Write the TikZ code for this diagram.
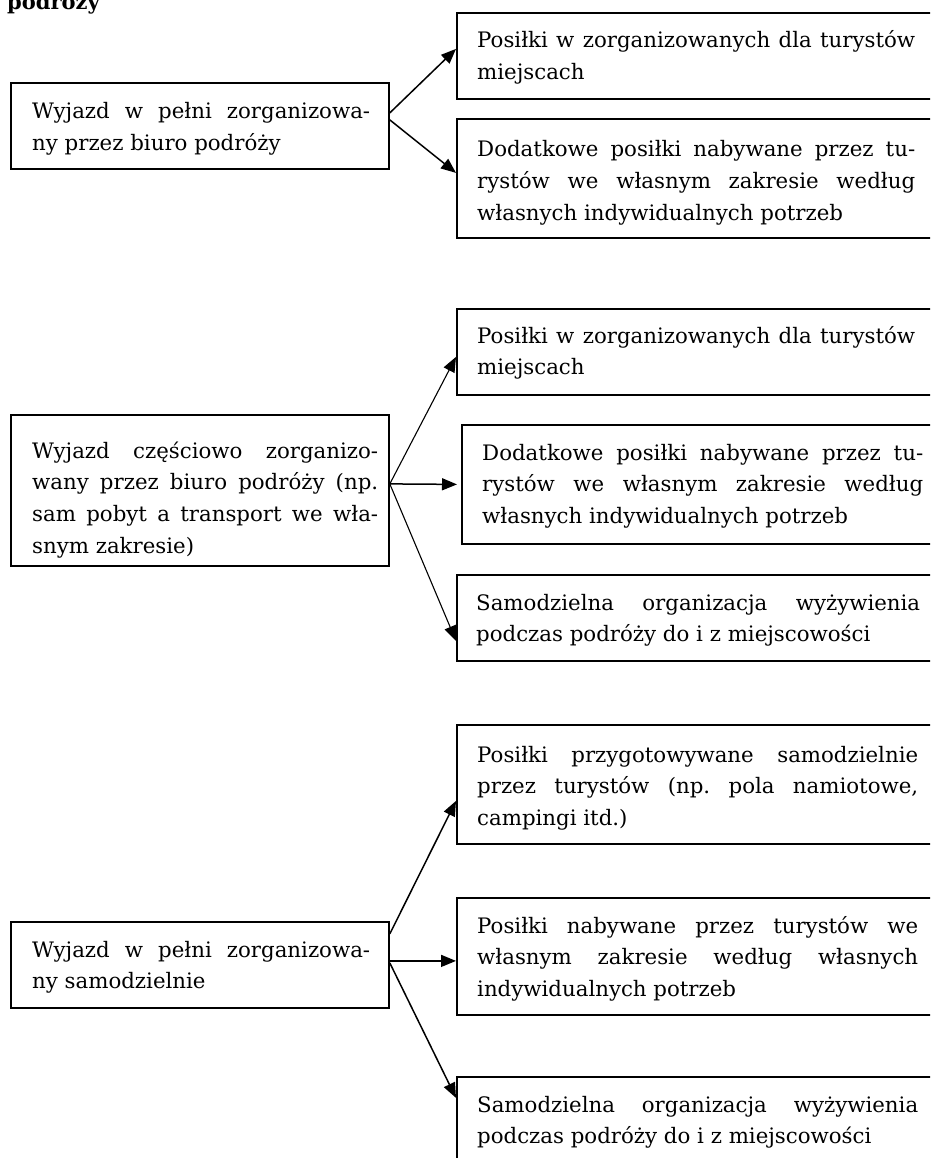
\documentclass[tikz,border=0pt]{standalone}
\usepackage{fontspec}
\setmainfont{DejaVu Serif}
\frenchspacing
\usetikzlibrary{arrows.meta}
\newcommand\jl[1]{\makebox[\linewidth][s]{#1}\par}
\tikzset{
  box/.style={draw, line width=1.8pt, rectangle, inner sep=0pt, anchor=north west},
  txt/.style={inner sep=0pt, anchor=base west, font=\fontsize{21.3}{31.7}\selectfont},
  ttl/.style={inner sep=0pt, anchor=base west, font=\fontsize{21}{28}\selectfont\bfseries},
  arr/.style={line width=1.5pt, -{Triangle[length=15pt,width=12pt]}},
  thinarr/.style={arr, line width=1.1pt},
}
\begin{document}
\begin{tikzpicture}[x=1pt,y=-1pt]
\useasboundingbox (0,0) rectangle (930,1158);
\clip (0,0) rectangle (930,1158);
\node[ttl] (title) at (7,10) {podróży};
% group 1
\node[box, minimum width=378pt, minimum height=86pt] (A1) at (10,82) {};
\node[box, minimum width=480pt, minimum height=86pt] (R1a) at (456,12) {};
\node[box, minimum width=480pt, minimum height=119pt] (R1b) at (456,118) {};
\node[txt] (tA1) at ([shift={(22,37)}]A1.north west) {\parbox[t]{338pt}{\jl{Wyjazd w pełni zorganizowa-}ny przez biuro podróży}};
\node[txt] (tR1a) at ([shift={(21,36)}]R1a.north west) {\parbox[t]{438pt}{\jl{Posiłki w zorganizowanych dla turystów}miejscach}};
\node[txt] (tR1b) at ([shift={(21,39)}]R1b.north west) {\parbox[t]{438pt}{\jl{Dodatkowe posiłki nabywane przez tu-}\jl{rystów we własnym zakresie według}własnych indywidualnych potrzeb}};
\draw[arr] ([yshift=13pt]A1.east) -- ([yshift=7pt]R1a.west);
\draw[arr] ([yshift=6pt]A1.east) -- ([yshift=5.5pt]R1b.west);
% group 2
\node[box, minimum width=378pt, minimum height=151pt] (A2) at (10,414) {};
\node[box, minimum width=480pt, minimum height=86pt] (R2a) at (456,308) {};
\node[box, minimum width=475pt, minimum height=119pt] (R2b) at (461,424) {};
\node[box, minimum width=480pt, minimum height=86pt] (R2c) at (456,574) {};
\node[txt] (tA2) at ([shift={(22,44)}]A2.north west) {\parbox[t]{346pt}{\jl{Wyjazd częściowo zorganizo-}\jl{wany przez biuro podróży (np.}\jl{sam pobyt a transport we wła-}snym zakresie)}};
\node[txt] (tR2a) at ([shift={(21,35)}]R2a.north west) {\parbox[t]{438pt}{\jl{Posiłki w zorganizowanych dla turystów}miejscach}};
\node[txt] (tR2b) at ([shift={(21,36)}]R2b.north west) {\parbox[t]{441pt}{\jl{Dodatkowe posiłki nabywane przez tu-}\jl{rystów we własnym zakresie według}własnych indywidualnych potrzeb}};
\node[txt] (tR2c) at ([shift={(20,36)}]R2c.north west) {\parbox[t]{444pt}{\jl{Samodzielna organizacja wyżywienia}podczas podróży do i z miejscowości}};
\draw[thinarr] ([yshift=6.5pt]A2.east) -- ([yshift=-5pt]R2a.west);
\draw[arr] ([yshift=6.5pt]A2.east) -- ([xshift=-4pt]R2b.west);
\draw[thinarr] ([yshift=6.5pt]A2.east) -- ([yshift=-23pt]R2c.west);
% group 3
\node[box, minimum width=378pt, minimum height=86pt] (A3) at (10,921) {};
\node[box, minimum width=480pt, minimum height=119pt] (R3a) at (456,724) {};
\node[box, minimum width=480pt, minimum height=117pt] (R3b) at (456,897) {};
\node[box, minimum width=480pt, minimum height=90pt] (R3c) at (456,1076) {};
\node[txt] (tA3) at ([shift={(22,36)}]A3.north west) {\parbox[t]{338pt}{\jl{Wyjazd w pełni zorganizowa-}ny samodzielnie}};
\node[txt] (tR3a) at ([shift={(21,38)}]R3a.north west) {\parbox[t]{441pt}{\jl{Posiłki przygotowywane samodzielnie}\jl{przez turystów (np. pola namiotowe,}campingi itd.)}};
\node[txt] (tR3b) at ([shift={(21,36)}]R3b.north west) {\parbox[t]{441pt}{\jl{Posiłki nabywane przez turystów we}\jl{własnym zakresie według własnych}indywidualnych potrzeb}};
\node[txt] (tR3c) at ([shift={(21,36)}]R3c.north west) {\parbox[t]{441pt}{\jl{Samodzielna organizacja wyżywienia}podczas podróży do i z miejscowości}};
\draw[arr] ([yshift=31pt]A3.east) -- ([yshift=-16.5pt]R3a.west);
\draw[arr] ([yshift=4pt]A3.east) -- ([yshift=-4.5pt]R3b.west);
\draw[arr] ([yshift=2pt]A3.east) -- ([yshift=24pt]R3c.west);
\end{tikzpicture}
\end{document}
